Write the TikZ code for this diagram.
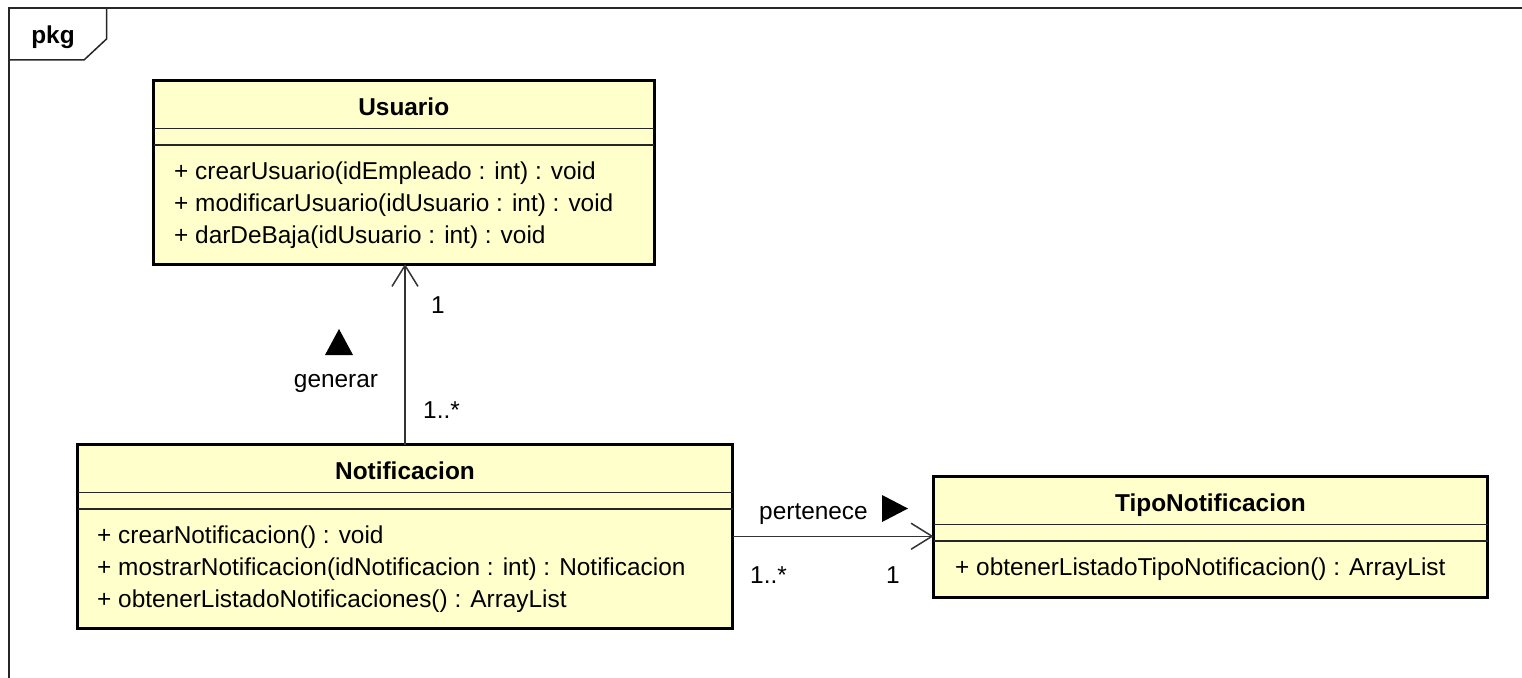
\documentclass[tikz,border=0pt]{standalone}
\usepackage{fontspec}
\setmainfont{Liberation Sans}
\usetikzlibrary{arrows.meta}
\definecolor{clsfill}{HTML}{FFFFCC}
\definecolor{linec}{HTML}{333333}
\begin{document}
\begin{tikzpicture}[x=1pt,y=-1pt,
  cls/.style={draw=black,line width=3pt,fill=clsfill,inner sep=0pt,outer sep=0pt,anchor=north west},
  sepline/.style={line width=1.5pt,draw=black!85},
  optext/.style={anchor=base west,inner sep=0pt,font=\fontsize{24.4}{30}\selectfont},
  ttltext/.style={anchor=base,inner sep=0pt,font=\fontsize{24.4}{30}\selectfont\bfseries},
  lbl/.style={anchor=base,inner sep=0pt,font=\fontsize{24.4}{30}\selectfont},
  assoc/.style={line width=1.5pt,draw=linec,-{Straight Barb[length=21pt,width=26pt,line width=1.5pt]}},
  frameline/.style={line width=1.5pt,draw=black!85},
  dirmark/.style={fill=black}
]
\useasboundingbox (0,0) rectangle (1522,677);
% package frame
\draw[frameline] (1523,8) -- (9,8) -- (9,678);
\draw[frameline] (106.5,8) -- (106.5,39) -- (84,60) -- (9,60);
\node[ttltext] (pkg) at (53,44) {pkg};

% Usuario
\node[cls,minimum width=500.5pt,minimum height=183.5pt] (usr) at (153.5,80.5) {};
\node[ttltext] (usrT) at (usr.center |- 0,115) {Usuario};
\draw[sepline] (153.5,128.5) -- (654,128.5);
\draw[sepline] (153.5,145) -- (654,145);
\node[optext] (usr1) at (174,179) {+ crearUsuario(idEmpleado : int) : void};
\node[optext] (usr2) at (174,211) {+ modificarUsuario(idUsuario : int) : void};
\node[optext] (usr3) at (174,243) {+ darDeBaja(idUsuario : int) : void};

% Notificacion
\node[cls,minimum width=655pt,minimum height=183.5pt] (nota) at (77.5,444.5) {};
\node[ttltext] (notaT) at (nota.center |- 0,479) {Notificacion};
\draw[sepline] (77.5,492.5) -- (732.5,492.5);
\draw[sepline] (77.5,509) -- (732.5,509);
\node[optext] (nota1) at (97,543) {+ crearNotificacion() : void};
\node[optext] (nota2) at (97,575) {+ mostrarNotificacion(idNotificacion : int) : Notificacion};
\node[optext] (nota3) at (97,607) {+ obtenerListadoNotificaciones() : ArrayList};

% TipoNotificacion
\node[cls,minimum width=554pt,minimum height=120.5pt] (tipo) at (933.5,476.5) {};
\node[ttltext] (tipoT) at (tipo.center |- 0,511) {TipoNotificacion};
\draw[sepline] (933.5,524.5) -- (1487.5,524.5);
\draw[sepline] (933.5,541) -- (1487.5,541);
\node[optext] (tipo1) at (955,575) {+ obtenerListadoTipoNotificacion() : ArrayList};

% associations
\draw[assoc] (nota.north) -- (nota.north |- usr.south);
\draw[assoc] (nota.east) -- (nota.east -| tipo.west);

% labels
\node[lbl] (m1) at (438,313) {1};
\node[lbl] (m2) at (441.5,418) {1..*};
\node[lbl] (gen) at (336,387) {generar};
\fill[dirmark] (325,355) -- (353,355) -- (339,329) -- cycle;
\node[lbl] (pert) at (813.5,519) {pertenece};
\fill[dirmark] (882,495) -- (908,508.5) -- (882,522) -- cycle;
\node[lbl] (m3) at (768.5,583) {1..*};
\node[lbl] (m4) at (893,583) {1};
\end{tikzpicture}
\end{document}
